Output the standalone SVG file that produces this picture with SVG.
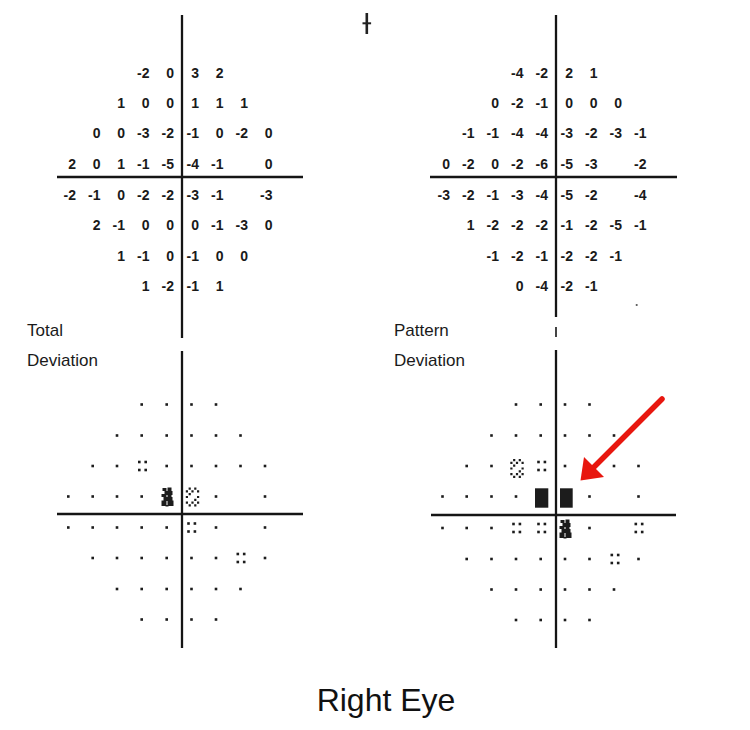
<svg xmlns="http://www.w3.org/2000/svg" xmlns:xlink="http://www.w3.org/1999/xlink" width="750" height="730" viewBox="0 0 750 730">
<style>
.ax{stroke:#151515;stroke-width:2.3;fill:none}
.num{font-family:"Liberation Sans",Arial,sans-serif;font-size:14px;font-weight:bold;fill:#1a1a1a;text-anchor:end}
.lbl{font-family:"Liberation Sans",Arial,sans-serif;font-size:17px;fill:#1a1a1a}
.title{font-family:"Liberation Sans",Arial,sans-serif;font-size:32px;fill:#111;text-anchor:middle}
.pt{fill:#1c1c1c}
</style>
<defs>
<rect id="d" x="-1.3" y="-1.3" width="2.6" height="2.6"/>
<g id="q">
<rect x="-4.5" y="-5.3" width="2.6" height="2.6"/>
<rect x="1.9" y="-5.3" width="2.6" height="2.6"/>
<rect x="-4.5" y="2.7" width="2.6" height="2.6"/>
<rect x="1.9" y="2.7" width="2.6" height="2.6"/>
</g>
<path id="sp" d="M-3.9,-9.5h2.2v2.2h-2.2z M1.7,-9.5h2.2v2.2h-2.2z M-6.7,-6.7h2.2v2.2h-2.2z M-1.1,-6.7h2.2v2.2h-2.2z M4.5,-6.7h2.2v2.2h-2.2z M-3.9,-3.9h2.2v2.2h-2.2z M-6.7,-1.1h2.2v2.2h-2.2z M4.5,-1.1h2.2v2.2h-2.2z M1.7,1.7h2.2v2.2h-2.2z M-6.7,4.5h2.2v2.2h-2.2z M-1.1,4.5h2.2v2.2h-2.2z M4.5,4.5h2.2v2.2h-2.2z M-3.9,7.3h2.2v2.2h-2.2z M1.7,7.3h2.2v2.2h-2.2z"/>
<path id="dn" d="M-5,-9h4v3h-4z M0,-9.5h4v4h-4z M-3,-6h8v4h-8z M-6,-3h5v3h-5z M0,-3h4v3h-4z M-4,0h9v4h-9z M-6,3.5h5v5.5h-5z M0,3.5h6v5.5h-6z M-2,8h3v1.5h-3z"/>
</defs>

<!-- small mark at top -->
<g id="mark">
<rect x="365.5" y="13" width="2.6" height="21" fill="#222"/>
<rect x="362.5" y="22.3" width="8.6" height="2" fill="#222"/>
</g>

<!-- axes -->
<g id="axes">
<line class="ax" x1="182" y1="15" x2="182" y2="338"/>
<line class="ax" x1="57" y1="177" x2="303" y2="177"/>
<line class="ax" x1="182" y1="351" x2="182" y2="648"/>
<line class="ax" x1="57" y1="514" x2="303" y2="514"/>
<line class="ax" x1="556" y1="15" x2="556" y2="317"/>
<line class="ax" x1="556" y1="327" x2="556" y2="337" style="stroke-width:1.6"/>
<line class="ax" x1="430" y1="177" x2="677" y2="177"/>
<line class="ax" x1="556" y1="350" x2="556" y2="648"/>
<line class="ax" x1="431" y1="515" x2="676" y2="515"/>
</g>

<!-- Total deviation values -->
<g id="total-values" class="num">
<text y="78"><tspan x="149.5">-2</tspan><tspan x="174">0</tspan><tspan x="199">3</tspan><tspan x="223.5">2</tspan></text>
<text y="107.5"><tspan x="125">1</tspan><tspan x="149.5">0</tspan><tspan x="174">0</tspan><tspan x="199">1</tspan><tspan x="223.5">1</tspan><tspan x="248">1</tspan></text>
<text y="138"><tspan x="100.5">0</tspan><tspan x="125">0</tspan><tspan x="149.5">-3</tspan><tspan x="174">-2</tspan><tspan x="199">-1</tspan><tspan x="223.5">0</tspan><tspan x="248">-2</tspan><tspan x="272.5">0</tspan></text>
<text y="169"><tspan x="76">2</tspan><tspan x="100.5">0</tspan><tspan x="125">1</tspan><tspan x="149.5">-1</tspan><tspan x="174">-5</tspan><tspan x="199">-4</tspan><tspan x="223.5">-1</tspan><tspan x="272.5">0</tspan></text>
<text y="200"><tspan x="76">-2</tspan><tspan x="100.5">-1</tspan><tspan x="125">0</tspan><tspan x="149.5">-2</tspan><tspan x="174">-2</tspan><tspan x="199">-3</tspan><tspan x="223.5">-1</tspan><tspan x="272.5">-3</tspan></text>
<text y="229.5"><tspan x="100.5">2</tspan><tspan x="125">-1</tspan><tspan x="149.5">0</tspan><tspan x="174">0</tspan><tspan x="199">0</tspan><tspan x="223.5">-1</tspan><tspan x="248">-3</tspan><tspan x="272.5">0</tspan></text>
<text y="260.5"><tspan x="125">1</tspan><tspan x="149.5">-1</tspan><tspan x="174">0</tspan><tspan x="199">-1</tspan><tspan x="223.5">0</tspan><tspan x="248">0</tspan></text>
<text y="291"><tspan x="149.5">1</tspan><tspan x="174">-2</tspan><tspan x="199">-1</tspan><tspan x="223.5">1</tspan></text>
</g>

<!-- Pattern deviation values -->
<g id="pattern-values" class="num">
<text y="78"><tspan x="523.5">-4</tspan><tspan x="548">-2</tspan><tspan x="573">2</tspan><tspan x="597.5">1</tspan></text>
<text y="107.5"><tspan x="499">0</tspan><tspan x="523.5">-2</tspan><tspan x="548">-1</tspan><tspan x="573">0</tspan><tspan x="597.5">0</tspan><tspan x="622">0</tspan></text>
<text y="138"><tspan x="474.5">-1</tspan><tspan x="499">-1</tspan><tspan x="523.5">-4</tspan><tspan x="548">-4</tspan><tspan x="573">-3</tspan><tspan x="597.5">-2</tspan><tspan x="622">-3</tspan><tspan x="646.5">-1</tspan></text>
<text y="169"><tspan x="450">0</tspan><tspan x="474.5">-2</tspan><tspan x="499">0</tspan><tspan x="523.5">-2</tspan><tspan x="548">-6</tspan><tspan x="573">-5</tspan><tspan x="597.5">-3</tspan><tspan x="646.5">-2</tspan></text>
<text y="200"><tspan x="450">-3</tspan><tspan x="474.5">-2</tspan><tspan x="499">-1</tspan><tspan x="523.5">-3</tspan><tspan x="548">-4</tspan><tspan x="573">-5</tspan><tspan x="597.5">-2</tspan><tspan x="646.5">-4</tspan></text>
<text y="229.5"><tspan x="474.5">1</tspan><tspan x="499">-2</tspan><tspan x="523.5">-2</tspan><tspan x="548">-2</tspan><tspan x="573">-1</tspan><tspan x="597.5">-2</tspan><tspan x="622">-5</tspan><tspan x="646.5">-1</tspan></text>
<text y="260.5"><tspan x="499">-1</tspan><tspan x="523.5">-2</tspan><tspan x="548">-1</tspan><tspan x="573">-2</tspan><tspan x="597.5">-2</tspan><tspan x="622">-1</tspan></text>
<text y="291"><tspan x="523.5">0</tspan><tspan x="548">-4</tspan><tspan x="573">-2</tspan><tspan x="597.5">-1</tspan></text>
</g>
<circle cx="636.7" cy="305" r="1.1" fill="#555"/>

<!-- labels -->
<g id="labels" class="lbl">
<text x="27" y="336">Total</text>
<text x="27" y="366">Deviation</text>
<text x="394" y="336">Pattern</text>
<text x="394" y="366">Deviation</text>
</g>

<!-- Total deviation probability map -->
<g id="total-map" class="pt">
<use href="#d" x="141.7" y="404.5"/><use href="#d" x="166.7" y="404.5"/><use href="#d" x="191.5" y="404.5"/><use href="#d" x="216" y="404.5"/>
<use href="#d" x="117" y="435.5"/><use href="#d" x="141.7" y="435.5"/><use href="#d" x="166.7" y="435.5"/><use href="#d" x="191.5" y="435.5"/><use href="#d" x="216" y="435.5"/><use href="#d" x="240.5" y="435.5"/>
<use href="#d" x="92.7" y="466"/><use href="#d" x="117" y="466"/><use href="#q" x="142.5" y="466"/><use href="#d" x="166.7" y="466"/><use href="#d" x="191.5" y="466"/><use href="#d" x="216" y="466"/><use href="#d" x="240.5" y="466"/><use href="#d" x="265" y="466"/>
<use href="#d" x="68.3" y="496.5"/><use href="#d" x="92.7" y="496.5"/><use href="#d" x="117" y="496.5"/><use href="#d" x="141.7" y="496.5"/><use href="#dn" x="167.5" y="497"/><use href="#sp" x="192.5" y="497"/><use href="#d" x="216" y="496.5"/><use href="#d" x="265" y="496.5"/>
<use href="#d" x="68.3" y="527.5"/><use href="#d" x="92.7" y="527.5"/><use href="#d" x="117" y="527.5"/><use href="#d" x="141.7" y="527.5"/><use href="#d" x="166.7" y="527.5"/><use href="#q" x="191.7" y="527.5"/><use href="#d" x="216" y="527.5"/><use href="#d" x="265" y="527.5"/>
<use href="#d" x="92.7" y="558"/><use href="#d" x="117" y="558"/><use href="#d" x="141.7" y="558"/><use href="#d" x="166.7" y="558"/><use href="#d" x="191.5" y="558"/><use href="#d" x="216" y="558"/><use href="#q" x="241" y="558"/><use href="#d" x="265" y="558"/>
<use href="#d" x="117" y="589"/><use href="#d" x="141.7" y="589"/><use href="#d" x="166.7" y="589"/><use href="#d" x="191.5" y="589"/><use href="#d" x="216" y="589"/><use href="#d" x="240.5" y="589"/>
<use href="#d" x="141.7" y="619.5"/><use href="#d" x="166.7" y="619.5"/><use href="#d" x="191.5" y="619.5"/><use href="#d" x="216" y="619.5"/>
</g>

<!-- Pattern deviation probability map -->
<g id="pattern-map" class="pt">
<use href="#d" x="516" y="404.5"/><use href="#d" x="540.7" y="404.5"/><use href="#d" x="565" y="404.5"/><use href="#d" x="589.5" y="404.5"/>
<use href="#d" x="491.5" y="435.5"/><use href="#d" x="516" y="435.5"/><use href="#d" x="540.7" y="435.5"/><use href="#d" x="565" y="435.5"/><use href="#d" x="589.5" y="435.5"/><use href="#d" x="614" y="435.5"/>
<use href="#d" x="466.7" y="466"/><use href="#d" x="491.5" y="466"/><use href="#sp" x="517" y="468.5"/><use href="#q" x="541.7" y="466"/><use href="#d" x="565" y="466"/><use href="#d" x="589.5" y="466"/><use href="#d" x="614" y="466"/><use href="#d" x="638.5" y="466"/>
<use href="#d" x="442.5" y="496.5"/><use href="#d" x="466.7" y="496.5"/><use href="#d" x="491.5" y="496.5"/><use href="#d" x="516" y="496.5"/>
<rect x="535" y="488.3" width="13.3" height="19.4"/><rect x="560" y="488.3" width="12.7" height="19.4"/>
<use href="#d" x="589.5" y="496.5"/><use href="#d" x="638.5" y="496.5"/>
<use href="#d" x="442.5" y="528"/><use href="#d" x="466.7" y="528"/><use href="#d" x="491.5" y="528"/><use href="#q" x="516.7" y="528"/><use href="#q" x="541.7" y="528"/><use href="#dn" x="565.5" y="529"/><use href="#d" x="589.5" y="528"/><use href="#q" x="639" y="528"/>
<use href="#d" x="466.7" y="559"/><use href="#d" x="491.5" y="559"/><use href="#d" x="516" y="559"/><use href="#d" x="540.7" y="559"/><use href="#d" x="565" y="559"/><use href="#d" x="589.5" y="559"/><use href="#q" x="615" y="559"/><use href="#d" x="638.5" y="559"/>
<use href="#d" x="491.5" y="589.5"/><use href="#d" x="516" y="589.5"/><use href="#d" x="540.7" y="589.5"/><use href="#d" x="565" y="589.5"/><use href="#d" x="589.5" y="589.5"/><use href="#d" x="614" y="589.5"/>
<use href="#d" x="516" y="620"/><use href="#d" x="540.7" y="620"/><use href="#d" x="565" y="620"/><use href="#d" x="589.5" y="620"/>
</g>

<!-- red arrow -->
<g id="arrow">
<line x1="662" y1="399" x2="594" y2="467" stroke="#e8170f" stroke-width="5.5" stroke-linecap="round"/>
<polygon points="580.5,480.5 584,457 604,477" fill="#e8170f"/>
</g>

<text class="title" x="386" y="711">Right Eye</text>
</svg>
